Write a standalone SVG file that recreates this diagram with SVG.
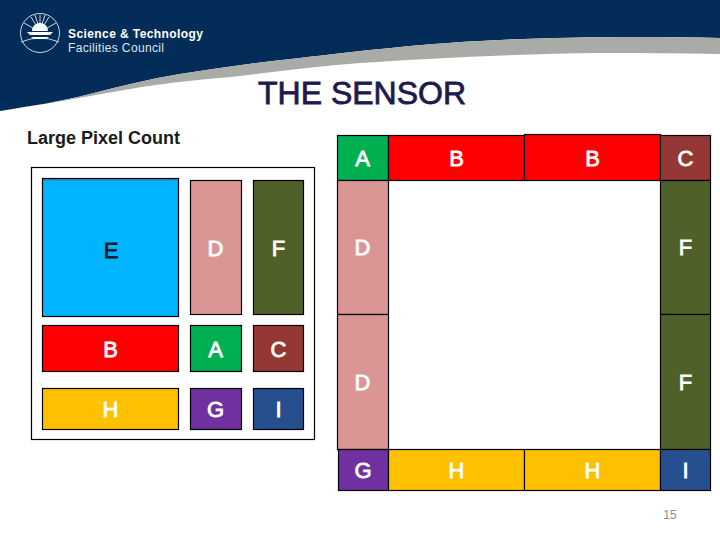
<svg xmlns="http://www.w3.org/2000/svg" width="720" height="540" viewBox="0 0 720 540">
<style>
.c{stroke:#000;stroke-width:1.2}
.w{font:22px "Liberation Sans",Arial,sans-serif;fill:#fff;stroke:#fff;stroke-width:.8;text-anchor:middle}
.k{fill:#061a2c;stroke:#061a2c}
.l{fill:none;stroke:#fff;stroke-width:.8}
</style>
<rect width="720" height="540" fill="#fff"/>
<g id="banner">
<path d="M0 111C30 106 60 102 90 94C120 86 150 79 180 74C220 68 260 62 300 58C350 52 420 44 480 41C550 37 640 36 720 38V0H0Z" fill="#032d58"/>
<path d="M0 111C30 106 60 102 90 94C120 86 150 79 180 74C220 68 260 62 300 58C350 52 420 44 480 41C550 37 640 36 720 38V54C680 53 640 53 600 53C520 54 430 58 360 63C320 66 280 71 240 76C210 79 170 82 130 89C90 96 40 105 0 111Z" fill="#a9aca6"/>
</g>
<g id="logo">
<circle cx="40" cy="33" r="19.5" class="l"/>
<path d="M27 32H53L50 35H30ZM31 37H49L46 39H34Z" fill="#fff"/>
<path d="M32 31A8 8 0 0 1 48 31Z" fill="#fff"/>
<path d="M40 24V15M36 25L31 17M44 25L49 17M33 28L24 23M47 28L56 23M38 24L35 15M42 24L45 15" class="l"/>
<path d="M21 42Q40 34 59 42" class="l"/>
<text x="68" y="38" font-family="'Liberation Sans',Arial,sans-serif" font-size="12" font-weight="700" fill="#fff" textLength="135">Science &amp; Technology</text>
<text x="68" y="52" font-family="'Liberation Sans',Arial,sans-serif" font-size="12" fill="#dfe5ec" textLength="96">Facilities Council</text>
</g>
<g id="title"><text x="362" y="104" font-family="'Liberation Sans',Arial,sans-serif" font-size="32" fill="#1e1a4e" stroke="#1e1a4e" stroke-width=".8" text-anchor="middle">THE SENSOR</text></g>
<g id="subtitle"><text x="27" y="144" font-family="'Liberation Sans',Arial,sans-serif" font-size="18" font-weight="700" fill="#1a1a1a" textLength="153">Large Pixel Count</text></g>
<g id="panel"><rect x="31.5" y="167.5" width="283" height="272" fill="#fff" stroke="#000" stroke-width="1.2"/></g>
<g id="left-E"><rect class="c" x="42.5" y="178.5" width="136" height="138" fill="#00b4ff"/><rect x="43" y="179" width="135" height="1.5" fill="#2a7ab8"/><text class="w k" x="111" y="258">E</text></g>
<g id="left-D"><rect class="c" x="190.5" y="180.5" width="51" height="134" fill="#d99694"/><text class="w" x="215.5" y="256">D</text></g>
<g id="left-F"><rect class="c" x="253.5" y="180.5" width="50" height="134" fill="#4f6128"/><text class="w" x="278.5" y="256">F</text></g>
<g id="left-B"><rect class="c" x="42.5" y="325.5" width="136" height="46" fill="#f00"/><text class="w" x="110.5" y="357">B</text></g>
<g id="left-A"><rect class="c" x="190.5" y="325.5" width="51" height="46" fill="#00b050"/><text class="w" x="215.5" y="357">A</text></g>
<g id="left-C"><rect class="c" x="253.5" y="325.5" width="50" height="46" fill="#953735"/><text class="w" x="278.5" y="357">C</text></g>
<g id="left-H"><rect class="c" x="42.5" y="388.5" width="136" height="41" fill="#ffc000"/><text class="w" x="110.5" y="417">H</text></g>
<g id="left-G"><rect class="c" x="190.5" y="388.5" width="51" height="41" fill="#7030a0"/><text class="w" x="215.5" y="417">G</text></g>
<g id="left-I"><rect class="c" x="253.5" y="388.5" width="50" height="41" fill="#254f8f"/><text class="w" x="278.5" y="417">I</text></g>
<g id="right-A"><rect class="c" x="337.5" y="135.5" width="51" height="45" fill="#00b050"/><text class="w" x="362.5" y="166">A</text></g>
<g id="right-B1"><rect class="c" x="388.5" y="135.5" width="136" height="45" fill="#f00"/><text class="w" x="456.5" y="166">B</text></g>
<g id="right-B2"><rect class="c" x="524.5" y="134.5" width="136" height="46" fill="#f00"/><text class="w" x="592.5" y="166">B</text></g>
<g id="right-C"><rect class="c" x="660.5" y="135.5" width="50" height="45" fill="#953735"/><text class="w" x="685.5" y="166">C</text></g>
<g id="right-D1"><rect class="c" x="337.5" y="180.5" width="51" height="134" fill="#d99694"/><text class="w" x="362.5" y="255">D</text></g>
<g id="right-F1"><rect class="c" x="660.5" y="180.5" width="50" height="134" fill="#4f6128"/><text class="w" x="685.5" y="255">F</text></g>
<g id="right-D2"><rect class="c" x="337.5" y="314.5" width="51" height="135" fill="#d99694"/><text class="w" x="362.5" y="390">D</text></g>
<g id="right-F2"><rect class="c" x="660.5" y="314.5" width="50" height="135" fill="#4f6128"/><text class="w" x="685.5" y="390">F</text></g>
<g id="right-G"><rect class="c" x="338.5" y="449.5" width="50" height="41" fill="#7030a0"/><text class="w" x="363" y="478">G</text></g>
<g id="right-H1"><rect class="c" x="388.5" y="449.5" width="136" height="41" fill="#ffc000"/><text class="w" x="456.5" y="478">H</text></g>
<g id="right-H2"><rect class="c" x="524.5" y="449.5" width="136" height="41" fill="#ffc000"/><text class="w" x="592.5" y="478">H</text></g>
<g id="right-I"><rect class="c" x="660.5" y="449.5" width="50" height="41" fill="#254f8f"/><text class="w" x="685.5" y="478">I</text></g>
<g id="connectors"></g>
<g id="page"><text x="670" y="519" font-family="'Liberation Sans',Arial,sans-serif" font-size="12" fill="#8c8c8c" text-anchor="middle">15</text></g>
</svg>
